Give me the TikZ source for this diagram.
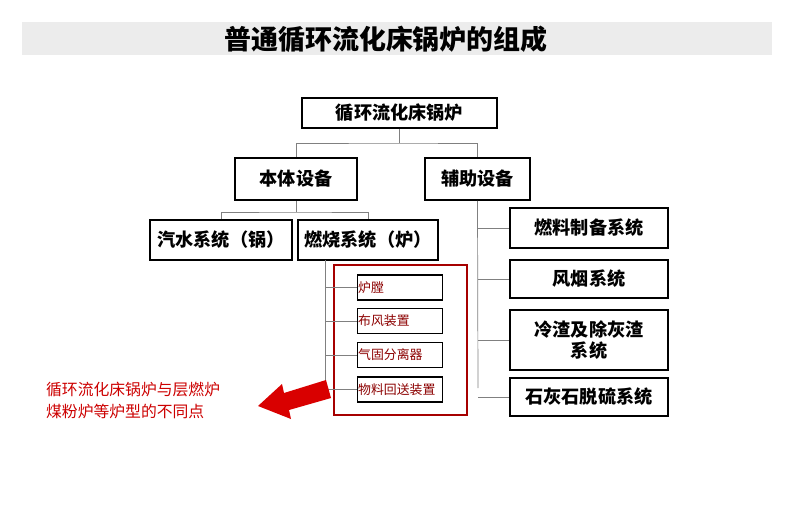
\documentclass[tikz,border=0pt]{standalone}
\usepackage{fontspec}
\setmainfont{Noto Sans CJK SC}
\begin{document}
\begin{tikzpicture}[x=0.03cm,y=-0.03cm,
 bx/.style={draw=black,line width=1.3pt,fill=white,inner sep=0,font=\bfseries\fontsize{15.5}{18}\selectfont},
 sb/.style={draw=black,line width=1.1pt,fill=white,inner sep=0,font=\fontsize{11}{12}\selectfont,text=red!55!black},
 ln/.style={draw=gray,line width=0.6pt}]
\useasboundingbox (0,0) rectangle (800,523);
\fill[gray!15] (22,22) rectangle (772,55);
\node[font=\bfseries\fontsize{23}{26}\selectfont] (title) at (386,39) {普通循环流化床锅炉的组成};
\node[bx,minimum width=195*0.03cm,minimum height=30*0.03cm] (top) at (399.5,113) {循环流化床锅炉};
\node[bx,minimum width=122*0.03cm,minimum height=42*0.03cm] (bt) at (296,179) {本体设备};
\node[bx,minimum width=105*0.03cm,minimum height=42*0.03cm] (fz) at (477.5,179) {辅助设备};
\node[bx,minimum width=142*0.03cm,minimum height=40*0.03cm] (qs) at (221,240) {汽水系统（锅）};
\node[bx,minimum width=140*0.03cm,minimum height=40*0.03cm] (rs) at (368,240) {燃烧系统（炉）};
\draw[ln] (top.south) -- (399.5,143) coordinate (j1);
\draw[ln] (bt.north) |- (j1) -| (fz.north);
\draw[ln] (bt.south) -- (296,212) coordinate (j2);
\draw[ln] (qs.north) |- (j2) -| (rs.north);
\draw[draw=red!65!black,line width=1.3pt] (334,265) rectangle (467,415);
\foreach \n/\y/\t in {a/287.5/炉膛,b/321/布风装置,c/355/气固分离器,d/389.5/物料回送装置}{
 \node[sb,minimum width=85*0.03cm,minimum height=25*0.03cm,anchor=west,text width=84*0.03cm,align=left] (\n) at (357,\y) {\t};
 \draw[ln] (325,\y) -- (\n.west);}
\draw[ln] (325,260) -- (325,389.5);
\foreach \n/\y/\h/\t in {e/228/40/燃料制备系统,f/279/38/风烟系统,g/340/60/{冷渣及除灰渣\\系统},h/397/38/石灰石脱硫系统}{
 \node[bx,minimum width=158*0.03cm,minimum height=\h*0.03cm,align=center] (\n) at (589,\y) {\t};
 \draw[ln] (478,\y) -- (\n.west);}
\draw[ln] (fz.south) -- (478,388);
\node[text=red!80!black,font=\fontsize{13.5}{19}\selectfont,align=left,anchor=north west] (rt) at (42,378) {循环流化床锅炉与层燃炉\\煤粉炉等炉型的不同点};
\fill[red!85!black] (258,406) -- (282,384) -- (284,393) -- (326,380) -- (331,398) -- (289,410) -- (291,419) -- cycle;
\end{tikzpicture}
\end{document}
